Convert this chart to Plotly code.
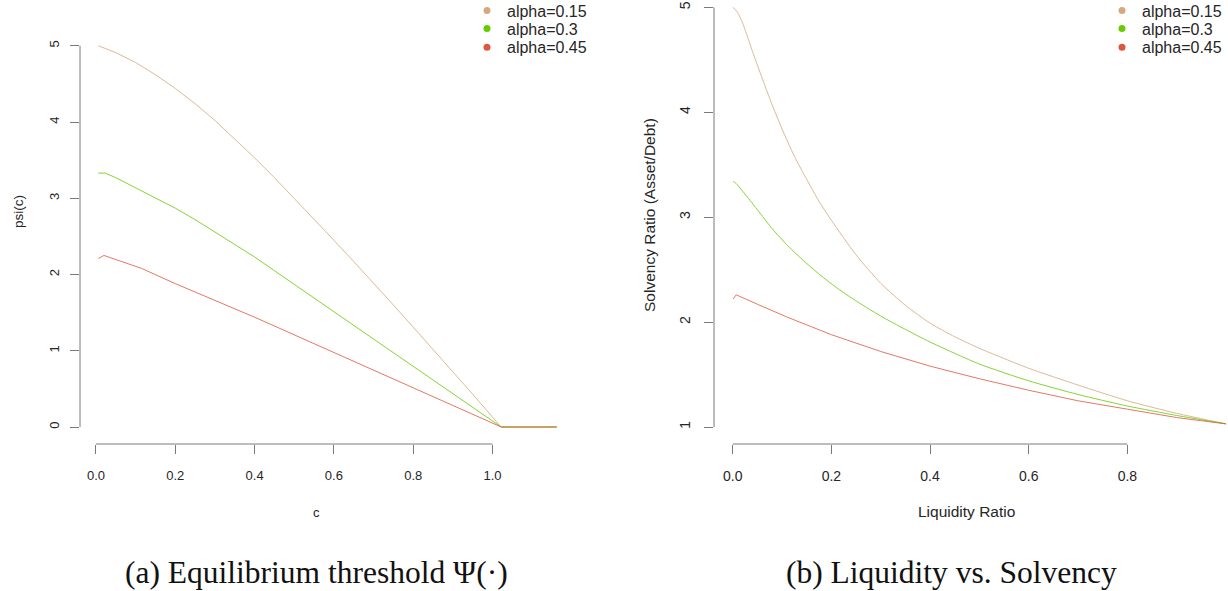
import plotly.graph_objects as go

# ---- data -------------------------------------------------------------
alphas = ["alpha=0.15", "alpha=0.3", "alpha=0.45"]
colors = ["#D6A97C", "#66CC00", "#DD5840"]

# (a) equilibrium threshold psi(c)
c_015 = [0.006, 0.05, 0.1, 0.15, 0.2, 0.25, 0.3, 0.35, 0.4, 0.45, 0.5, 0.55, 0.6,
         0.65, 0.7, 0.75, 0.8, 0.85, 0.9, 0.95, 1.0, 1.022, 1.162]
psi_015 = [5.0, 4.91, 4.78, 4.62, 4.44, 4.24, 4.02, 3.78, 3.53, 3.27, 3.0, 2.73, 2.45,
           2.17, 1.89, 1.60, 1.31, 1.02, 0.72, 0.43, 0.13, 0.0, 0.0]
c_03 = [0.006, 0.023, 0.05, 0.1, 0.15, 0.2, 0.25, 0.3, 0.35, 0.4, 0.45, 0.5, 0.6,
        0.7, 0.8, 0.9, 1.0, 1.022, 1.162]
psi_03 = [3.33, 3.33, 3.27, 3.14, 3.01, 2.87, 2.72, 2.56, 2.40, 2.23, 2.05, 1.87, 1.51,
          1.15, 0.79, 0.43, 0.08, 0.0, 0.0]
c_045 = [0.006, 0.02, 0.115, 0.2, 0.4, 0.6, 0.8, 1.0, 1.022, 1.162]
psi_045 = [2.21, 2.25, 2.08, 1.88, 1.44, 0.98, 0.52, 0.06, 0.0, 0.0]

# (b) liquidity ratio vs. solvency ratio
liq_015 = [0.001, 0.01, 0.02, 0.03, 0.04, 0.06, 0.08, 0.1, 0.125, 0.15, 0.175, 0.2,
           0.25, 0.3, 0.35, 0.4, 0.45, 0.5, 0.6, 0.7, 0.8, 0.9, 1.0]
sol_015 = [5.0, 4.95, 4.85, 4.72, 4.58, 4.32, 4.07, 3.84, 3.58, 3.36, 3.15, 2.97,
           2.64, 2.37, 2.16, 1.99, 1.86, 1.75, 1.56, 1.40, 1.25, 1.13, 1.03]
liq_03 = [0.001, 0.005, 0.03, 0.055, 0.08, 0.109, 0.14, 0.177, 0.21, 0.244, 0.299,
          0.35, 0.4, 0.5, 0.6, 0.7, 0.8, 0.9, 1.0]
sol_03 = [3.34, 3.33, 3.19, 3.04, 2.89, 2.74, 2.60, 2.45, 2.33, 2.22, 2.06,
          1.93, 1.81, 1.60, 1.44, 1.31, 1.20, 1.11, 1.03]
liq_045 = [0.001, 0.007, 0.05, 0.109, 0.2, 0.3, 0.4, 0.5, 0.6, 0.7, 0.8, 0.9, 1.0]
sol_045 = [2.22, 2.26, 2.17, 2.05, 1.88, 1.72, 1.58, 1.46, 1.35, 1.25, 1.17, 1.09, 1.03]

xticks_a = [0.0, 0.2, 0.4, 0.6, 0.8, 1.0]
yticks_a = [0, 1, 2, 3, 4, 5]
xticks_b = [0.0, 0.2, 0.4, 0.6, 0.8]
yticks_b = [1, 2, 3, 4, 5]

# ---- geometry ---------------------------------------------------------
W, H = 1228, 591
xr_a, yr_a = [-0.0403, 1.208], [-0.223, 5.60]
xr_b, yr_b = [-0.038, 1.004], [0.838, 5.07]
dom_xa = [80 / W, 575 / W]
dom_xb = [714 / W, 1.0]
dom_y = [147 / H, 1.0]

AXIS_COL = "#7a7a7a"
TXT_COL = "#262626"
SANS = "Liberation Sans, Arial, sans-serif"
SERIF = "Liberation Serif, Times New Roman, serif"

fig = go.Figure()

panel_a = [(c_015, psi_015), (c_03, psi_03), (c_045, psi_045)]
panel_b = [(liq_015, sol_015), (liq_03, sol_03), (liq_045, sol_045)]

for (xs, ys), col in zip(panel_a, colors):
    fig.add_trace(go.Scatter(x=xs, y=ys, mode="lines", line=dict(color=col, width=1),
                             opacity=0.8, showlegend=False, xaxis="x", yaxis="y"))
for i, ((xs, ys), col) in enumerate(zip(panel_b, colors)):
    shape = "spline" if i < 2 else "linear"
    fig.add_trace(go.Scatter(x=xs, y=ys, mode="lines",
                             line=dict(color=col, width=1, shape=shape, smoothing=0.6),
                             opacity=0.8, showlegend=False, xaxis="x2", yaxis="y2"))

# legend rows: one single-entry legend per row so the rows sit tightly together
row_centers = [10.7, 28.7, 47.3]
legend_x = {"x": 467, "x2": 1102}
LEG_OFFSET = 17  # distance from legend box top to the centre of its entry
legend_layout = {}
k = 0
for xa, ya in (("x", "y"), ("x2", "y2")):
    for name, col, yc in zip(alphas, colors, row_centers):
        k += 1
        lname = "legend" if k == 1 else f"legend{k}"
        fig.add_trace(go.Scatter(x=[None], y=[None], mode="markers", name=name,
                                 marker=dict(color=col, size=7), legend=lname,
                                 xaxis=xa, yaxis=ya))
        legend_layout[lname] = dict(
            x=legend_x[xa] / W, y=1 - (yc - LEG_OFFSET) / H,
            xanchor="left", yanchor="top",
            font=dict(family=SANS, size=16, color=TXT_COL),
            bgcolor="rgba(0,0,0,0)")


def axis_common(**kw):
    d = dict(showgrid=False, zeroline=False, showline=False, ticks="outside",
             ticklen=9, tickwidth=1, tickcolor=AXIS_COL, fixedrange=True)
    d.update(kw)
    return d


fig.update_layout(
    width=W, height=H, margin=dict(l=0, r=0, t=0, b=0, autoexpand=False),
    paper_bgcolor="white", plot_bgcolor="white",
    xaxis=axis_common(domain=dom_xa, range=xr_a, tickvals=xticks_a,
                      ticktext=[f"{v:.1f}" for v in xticks_a],
                      tickfont=dict(family=SANS, size=13, color=TXT_COL),
                      ticklabelstandoff=10),
    yaxis=axis_common(domain=dom_y, range=yr_a, tickvals=yticks_a,
                      ticktext=[str(v) for v in yticks_a], tickangle=-90,
                      tickfont=dict(family=SANS, size=13, color=TXT_COL),
                      ticklabelstandoff=6),
    xaxis2=axis_common(domain=dom_xb, range=xr_b, tickvals=xticks_b,
                       ticktext=[f"{v:.1f}" for v in xticks_b],
                       tickfont=dict(family=SANS, size=14, color=TXT_COL),
                       ticklabelstandoff=10, anchor="y2"),
    yaxis2=axis_common(domain=dom_y, range=yr_b, tickvals=yticks_b,
                       ticktext=[str(v) for v in yticks_b], tickangle=-90,
                       tickfont=dict(family=SANS, size=14, color=TXT_COL),
                       ticklabelstandoff=8, anchor="x2"),
    **legend_layout,
)


def frac(v, r):
    return (v - r[0]) / (r[1] - r[0])


# R-style axis lines spanning only the tick range
axis_lines = [
    ("x domain", "y domain", frac(xticks_a[0], xr_a), frac(xticks_a[-1], xr_a), 0, 0),
    ("x domain", "y domain", 0, 0, frac(yticks_a[0], yr_a), frac(yticks_a[-1], yr_a)),
    ("x2 domain", "y2 domain", frac(xticks_b[0], xr_b), frac(xticks_b[-1], xr_b), 0, 0),
    ("x2 domain", "y2 domain", 0, 0, frac(yticks_b[0], yr_b), frac(yticks_b[-1], yr_b)),
]
for xref, yref, x0, x1, y0, y1 in axis_lines:
    fig.add_shape(type="line", xref=xref, yref=yref, x0=x0, x1=x1, y0=y0, y1=y1,
                  line=dict(color=AXIS_COL, width=1))


def label(text, px, py, size, family=SANS, angle=0, color=TXT_COL):
    fig.add_annotation(text=text, xref="paper", yref="paper", x=px / W, y=1 - py / H,
                       xanchor="center", yanchor="middle", textangle=angle,
                       showarrow=False, font=dict(family=family, size=size, color=color))


# axis titles
label("c", 316, 512, 13)
label("psi(c)", 18, 212, 13.5, angle=-90)
label("Liquidity Ratio", 966, 511, 15.5)
label("Solvency Ratio (Asset/Debt)", 649, 215, 15.5, angle=-90)

# sub-figure captions
label("(a) Equilibrium threshold Ψ(·)", 316, 572, 31.5, family=SERIF, color="#111111")
label("(b) Liquidity vs. Solvency", 951, 572, 31.5, family=SERIF, color="#111111")

fig.write_html("out.html")
